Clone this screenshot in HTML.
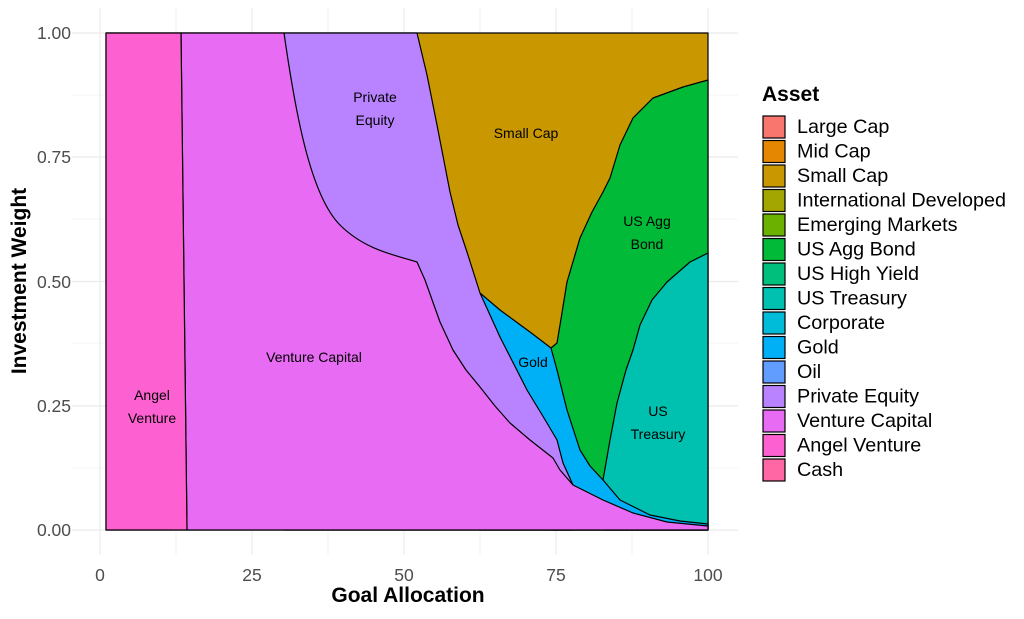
<!DOCTYPE html>
<html><head><style>body{margin:0;background:#fff}</style></head><body>
<svg width="1024" height="614" xmlns="http://www.w3.org/2000/svg" font-family="Liberation Sans, sans-serif">
<rect width="1024" height="614" fill="#fff"/>
<g stroke="#ebebeb" stroke-width="0.6">
<line x1="72" x2="738" y1="95" y2="95"/><line x1="72" x2="738" y1="219" y2="219"/><line x1="72" x2="738" y1="343" y2="343"/><line x1="72" x2="738" y1="468" y2="468"/>
<line x1="176" x2="176" y1="8" y2="555"/><line x1="328" x2="328" y1="8" y2="555"/><line x1="480" x2="480" y1="8" y2="555"/><line x1="632" x2="632" y1="8" y2="555"/>
</g>
<g stroke="#ebebeb" stroke-width="1.2">
<line x1="72" x2="738" y1="33" y2="33"/><line x1="72" x2="738" y1="157" y2="157"/><line x1="72" x2="738" y1="281.5" y2="281.5"/><line x1="72" x2="738" y1="406" y2="406"/><line x1="72" x2="738" y1="530" y2="530"/>
<line x1="100" x2="100" y1="8" y2="555"/><line x1="252" x2="252" y1="8" y2="555"/><line x1="404" x2="404" y1="8" y2="555"/><line x1="556" x2="556" y1="8" y2="555"/><line x1="708" x2="708" y1="8" y2="555"/>
</g>
<g stroke="#000" stroke-width="1.2" stroke-linejoin="round">
<rect x="106" y="33" width="602" height="497" fill="#C99800"/>
<path fill="#00BA38" d="M551,348 L557,343 L560,325 L567,282 L580,238 L592,212 L603,192 L610,178 L620,145 L633,118 L653,98 L683,87 L708,80 L708,530 L551,530 Z"/>
<path fill="#00C0AF" d="M603,480 L610,440 L617,403 L626,370 L633,350 L640,325 L652,300 L667,282 L690,262 L708,253 L708,530 L603,530 Z"/>
<path fill="#00B0F6" d="M480,293 L500,310 L530,332 L551,348 L557,370 L567,410 L580,450 L590,466 L603,480 L620,500 L650,515 L680,521 L708,524 L708,530 L480,530 Z"/>
<path fill="#B983FF" d="M284,33 L417,33 L427,75 L437,125 L450,192 L458,225 L467,252 L480,293 L500,337 L527,390 L547,423 L557,440 L563,463 L573,485 L573,530 L284,530 Z"/>
<path fill="#E76BF3" d="M181,33 L284,33 C295,110 310,195 340,225 C365,250 395,255 417,262 L425,280 L440,322 L453,350 L466,370 L480,387 L495,406 L510,423 L530,440 L553,458 L560,470 L573,485 L603,500 L633,513 L667,522 L708,526 L708,530 L187,530 Z"/>
<path fill="#FD61D1" d="M106,33 L181,33 L187,530 L106,530 Z"/>
</g>
<g font-size="14" fill="#000" text-anchor="middle">
<text x="152" y="400">Angel</text><text x="152" y="423">Venture</text>
<text x="314" y="362">Venture Capital</text>
<text x="375" y="102">Private</text><text x="375" y="125">Equity</text>
<text x="526" y="138">Small Cap</text>
<text x="533" y="367">Gold</text>
<text x="647" y="226">US Agg</text><text x="647" y="249">Bond</text>
<text x="658" y="416">US</text><text x="658" y="439">Treasury</text>
</g>
<g font-size="17.5" fill="#4d4d4d" text-anchor="end">
<text x="71" y="39">1.00</text><text x="71" y="163">0.75</text><text x="71" y="288">0.50</text><text x="71" y="412">0.25</text><text x="71" y="536">0.00</text>
</g>
<g font-size="17.5" fill="#4d4d4d" text-anchor="middle">
<text x="100" y="581">0</text><text x="252" y="581">25</text><text x="404" y="581">50</text><text x="556" y="581">75</text><text x="708" y="581">100</text>
</g>
<text x="408" y="602" font-size="21" font-weight="bold" text-anchor="middle">Goal Allocation</text>
<text transform="translate(26,281) rotate(-90)" font-size="21" font-weight="bold" text-anchor="middle">Investment Weight</text>
<text x="762" y="101" font-size="21" font-weight="bold">Asset</text>
<g stroke="#000" stroke-width="1.2">
<rect x="763" y="116" width="22" height="22" fill="#F8766D"/>
<rect x="763" y="140.5" width="22" height="22" fill="#E58700"/>
<rect x="763" y="165" width="22" height="22" fill="#C99800"/>
<rect x="763" y="189.5" width="22" height="22" fill="#A3A500"/>
<rect x="763" y="214" width="22" height="22" fill="#6BB100"/>
<rect x="763" y="238.5" width="22" height="22" fill="#00BA38"/>
<rect x="763" y="263" width="22" height="22" fill="#00BF7D"/>
<rect x="763" y="287.5" width="22" height="22" fill="#00C0AF"/>
<rect x="763" y="312" width="22" height="22" fill="#00BCD8"/>
<rect x="763" y="336.5" width="22" height="22" fill="#00B0F6"/>
<rect x="763" y="361" width="22" height="22" fill="#619CFF"/>
<rect x="763" y="385.5" width="22" height="22" fill="#B983FF"/>
<rect x="763" y="410" width="22" height="22" fill="#E76BF3"/>
<rect x="763" y="434.5" width="22" height="22" fill="#FD61D1"/>
<rect x="763" y="459" width="22" height="22" fill="#FF67A4"/>
</g>
<g font-size="19.8" fill="#000">
<text x="797" y="133">Large Cap</text><text x="797" y="157.5">Mid Cap</text><text x="797" y="182">Small Cap</text><text x="797" y="206.5">International Developed</text><text x="797" y="231">Emerging Markets</text><text x="797" y="255.5">US Agg Bond</text><text x="797" y="280">US High Yield</text><text x="797" y="304.5">US Treasury</text><text x="797" y="329">Corporate</text><text x="797" y="353.5">Gold</text><text x="797" y="378">Oil</text><text x="797" y="402.5">Private Equity</text><text x="797" y="427">Venture Capital</text><text x="797" y="451.5">Angel Venture</text><text x="797" y="476">Cash</text>
</g>
</svg>
</body></html>
